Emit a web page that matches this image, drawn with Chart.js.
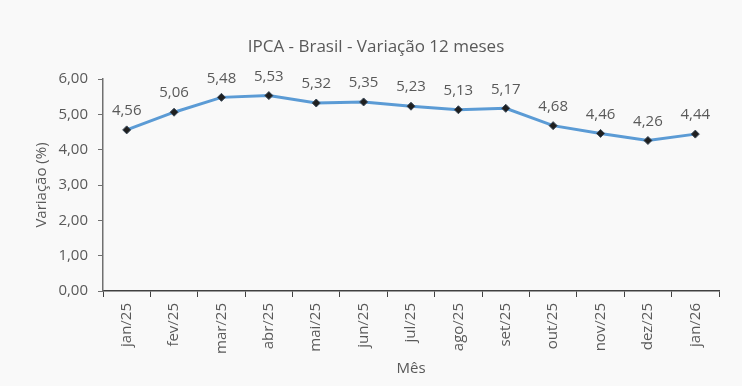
<!DOCTYPE html>
<html><head><meta charset="utf-8">
<script src="https://cdn.jsdelivr.net/npm/chart.js@4/dist/chart.umd.min.js"></script>
<style>html,body{margin:0;padding:0;background:#f9f9f9;}#wrap{width:742px;height:386px;}</style>
</head><body><div id="wrap"><canvas id="c" width="742" height="386"></canvas></div>
<script>
const categories = ["jan/25","fev/25","mar/25","abr/25","mai/25","jun/25","jul/25","ago/25","set/25","out/25","nov/25","dez/25","jan/26"];
const ipca12m = [4.56,5.06,5.48,5.53,5.32,5.35,5.23,5.13,5.17,4.68,4.46,4.26,4.44];
const yTicks = [0,1,2,3,4,5,6];

const FONT = "'Open Sans', sans-serif";
const TXT = '#595959';
const fmt = v => v.toFixed(2).replace('.', ',');

const labelPlugin = {
  id: 'dataLabels',
  afterDatasetsDraw(chart) {
    const ctx = chart.ctx;
    const meta = chart.getDatasetMeta(0);
    ctx.save();
    ctx.font = "15px " + FONT;
    ctx.fillStyle = TXT;
    ctx.textAlign = 'center';
    ctx.textBaseline = 'middle';
    meta.data.forEach((pt, i) => {
      ctx.fillText(fmt(ipca12m[i]), pt.x, pt.y - 19);
    });
    ctx.restore();
  }
};
const bgPlugin = {
  id: 'bg',
  beforeDraw(chart) {
    const ctx = chart.ctx;
    ctx.save(); ctx.fillStyle = '#f9f9f9'; ctx.fillRect(0,0,chart.width,chart.height); ctx.restore();
  }
};

new Chart(document.getElementById('c'), {
  type: 'line',
  data: {
    labels: categories,
    datasets: [{
      data: ipca12m,
      borderColor: '#5B9BD5',
      borderWidth: 3,
      pointStyle: 'rectRot',
      pointRadius: 4,
      pointBackgroundColor: '#1f1f1f',
      pointBorderColor: '#3a4a5a',
      pointBorderWidth: 1,
      tension: 0,
      clip: false
    }]
  },
  options: {
    responsive: false,
    animation: false,
    devicePixelRatio: 1,
    layout: { padding: { top: 12, right: 23, bottom: 8, left: 33 } },
    plugins: {
      legend: { display: false },
      tooltip: { enabled: false },
      title: {
        display: true,
        text: 'IPCA - Brasil - Variação 12 meses',
        color: TXT,
        font: { family: FONT, size: 17, weight: 'normal', lineHeight: 1.2 },
        padding: { top: 25, bottom: 21.6 }
      }
    },
    scales: {
      x: {
        offset: true,
        afterFit(scale) { scale.height = 87; },
        grid: { offset: true, drawOnChartArea: false, drawTicks: true, tickLength: 6, color: '#404040' },
        border: { display: true, color: '#404040', width: 1.5 },
        ticks: { color: TXT, font: { family: FONT, size: 15 }, minRotation: 90, maxRotation: 90, padding: 6, autoSkip: false },
        title: { display: true, text: 'Mês', color: TXT, font: { family: FONT, size: 15 }, padding: { top: 0, bottom: 0 } }
      },
      y: {
        min: 0, max: 6,
        afterFit(scale) { scale.width = 70; },
        afterBuildTicks(scale) { scale.ticks = yTicks.map(v => ({ value: v })); },
        grid: { drawOnChartArea: false, drawTicks: true, tickLength: 5, color: '#707070' },
        border: { display: true, color: '#707070', width: 1.5 },
        ticks: { color: TXT, font: { family: FONT, size: 15 }, padding: 10, callback: v => fmt(v) },
        title: { display: true, text: 'Variação (%)', color: TXT, font: { family: FONT, size: 15 }, padding: { top: 0, bottom: 4 } }
      }
    }
  },
  plugins: [bgPlugin, labelPlugin]
});
</script></body></html>
